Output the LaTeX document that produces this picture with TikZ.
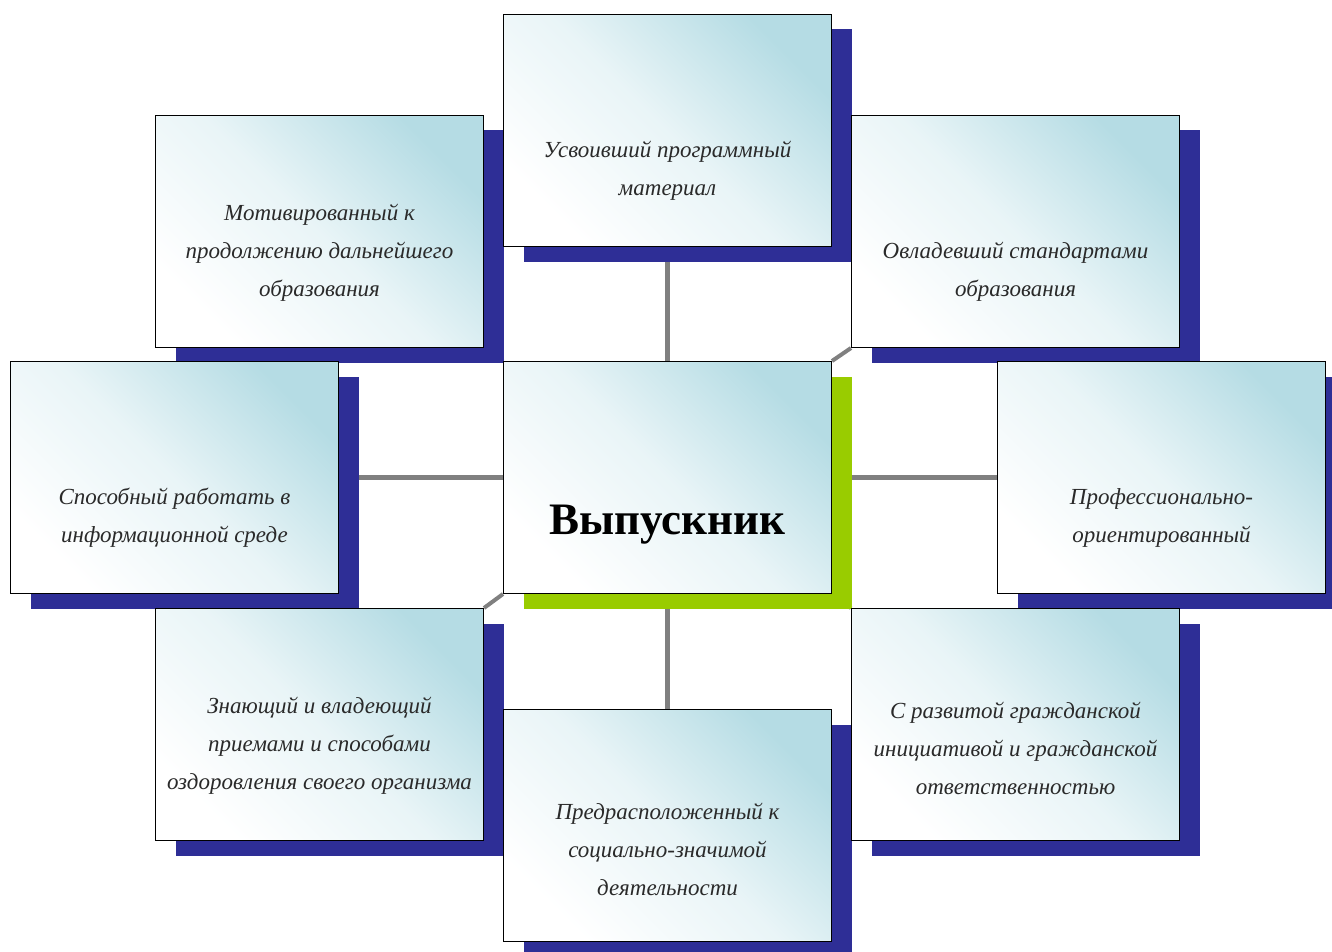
\documentclass[tikz,border=0pt]{standalone}
\usepackage{fontspec}
\setmainfont{Liberation Serif}
\usepackage{tikz}
\usetikzlibrary{positioning}
\usetikzlibrary{shadows}
\usetikzlibrary{backgrounds}
\definecolor{navyshadow}{HTML}{2E2E96}
\definecolor{greenshadow}{HTML}{99CC00}
\definecolor{boxblue}{HTML}{B5DCE4}
\definecolor{linkgray}{HTML}{808080}
\definecolor{textgray}{HTML}{2A2A2A}
\tikzset{
    box/.style={draw=black, line width=1pt, anchor=north west, inner sep=0pt,
        minimum width=328pt, minimum height=232pt,
        top color=boxblue, bottom color=white, middle color=boxblue!30!white, shading angle=-45,
        general shadow={fill=navyshadow, shadow xshift=20pt, shadow yshift=-15pt}},
    mainbox/.style={box,
        general shadow={fill=greenshadow, shadow xshift=20pt, shadow yshift=-15pt}},
    boxtext/.style={inner sep=0pt, align=center, text=textgray,
        font=\fontsize{23}{38}\selectfont\itshape},
    maintext/.style={inner sep=0pt, font=\fontsize{45}{50}\selectfont\bfseries},
    link/.style={draw=linkgray, line width=5pt},
    corner/.style={draw=linkgray, line width=4pt},
}
\begin{document}
\begin{tikzpicture}[x=1pt, y=-1pt]
	\useasboundingbox (0,0) rectangle (1332,952);
	\node[box] (tl) at (155,115) {};
	\node[box] (tc) at (503,14) {};
	\node[box] (tr) at (851,115) {};
	\node[box] (le) at (10,361) {};
	\node[mainbox] (ce) at (503,361) {};
	\node[box] (ri) at (997,361) {};
	\node[box] (bl) at (155,608) {};
	\node[box] (bc) at (503,709) {};
	\node[box] (br) at (851,608) {};
	\node[boxtext, above=46pt of tl.south] (tltext) {Мотивированный к\\продолжению дальнейшего\\образования};
	\node[boxtext, above=46pt of tc.south] (tctext) {Усвоивший программный\\материал};
	\node[boxtext, above=46pt of tr.south] (trtext) {Овладевший стандартами\\образования};
	\node[boxtext, above=46pt of le.south] (letext) {Способный работать в\\информационной среде};
	\node[maintext, above=50pt of ce.south] (cetext) {Выпускник};
	\node[boxtext, above=46pt of ri.south] (ritext) {Профессионально-\\ориентированный};
	\node[boxtext, above=46pt of bl.south] (bltext) {Знающий и владеющий\\приемами и способами\\оздоровления своего организма};
	\node[boxtext, above=46pt of bc.south] (bctext) {Предрасположенный к\\социально-значимой\\деятельности};
	\node[boxtext, above=46pt of br.south] (brtext) {С развитой гражданской\\инициативой и гражданской\\ответственностью};
	% links behind the boxes
	\begin{scope}[on background layer]
	\draw[link] (tc.south) -- (ce.north);
	\draw[link] (ce.south) -- (bc.north);
	\draw[link] (le.east) -- (ce.west);
	\draw[link] (ce.east) -- (ri.west);
	\draw[corner] (tl.south east) -- (ce.north west);
	\draw[corner] (tr.south west) -- (ce.north east);
	\draw[corner] (bl.north east) -- (ce.south west);
	\draw[corner] (br.north west) -- (ce.south east);
	\end{scope}
\end{tikzpicture}
\end{document}
